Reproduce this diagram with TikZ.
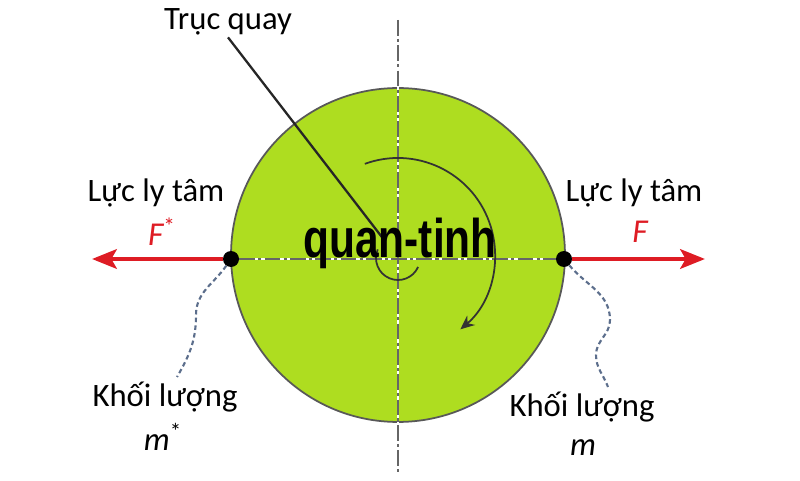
\documentclass[tikz,border=0pt]{standalone}
\usepackage{fontspec}
\setmainfont{Carlito}
\newfontfamily\wmfont{Liberation Sans}
\usetikzlibrary{arrows.meta,positioning}
\definecolor{discgreen}{RGB}{174,221,32}
\definecolor{rimgray}{RGB}{88,88,88}
\definecolor{forcered}{RGB}{222,28,36}
\definecolor{guideblue}{RGB}{92,110,140}
\tikzset{
  lbl/.style={font=\fontsize{18.6}{21}\selectfont, inner sep=1pt},
  flbl/.style={inner sep=1pt, text=forcered, font=\fontsize{19}{21}\selectfont\itshape},
  mass/.style={circle, fill=black, inner sep=0pt, minimum size=0.32cm},
  force/.style={draw=forcered, line width=2.8pt, -{Stealth[length=14pt,width=11pt,inset=3pt]}},
  guide/.style={draw=guideblue, line width=1.2pt, dash pattern=on 2.6pt off 1.8pt},
  axisline/.style={draw=black!60, line width=1pt, dash pattern=on 9pt off 1.8pt on 1.8pt off 1.8pt},
  spin/.style={draw=black!80, line width=1pt},
}
\begin{document}
\begin{tikzpicture}[x=0.02cm, y=0.02cm]
  \useasboundingbox (0,0) rectangle (800,480);

  \node[circle, draw=rimgray, line width=1pt, fill=discgreen, minimum size=6.68cm, inner sep=0pt] (disc) at (398,225) {};
  \coordinate (O) at (398,222);
  \coordinate (axtop) at (398,460);
  \coordinate (axbot) at (398,5);
  \coordinate (lend) at (92,221);
  \coordinate (rend) at (705,221);

  \draw[white, line width=1.2pt] (axtop) -- (axbot);
  \draw[axisline] (axtop) -- (axbot);

  \node[mass] (mL) at (231,221) {};
  \node[mass] (mR) at (564,221) {};
  \draw[white, line width=1.2pt] (mL) -- (mR);
  \draw[axisline] (mL) -- (mR);

  \draw[spin] ([shift={(157:22)}]O) arc[start angle=157, end angle=336, radius=22];
  \draw[spin, -{Stealth[length=8pt,width=7pt]}] ([shift={(110:97)}]398,225) arc[start angle=110, end angle=-50, radius=97];

  \node[lbl] (truc) at (228,458) {Trục quay};
  \draw[black!85, line width=1.3pt, shorten >=0.45cm] (truc.south) -- (O);

  \node[lbl] (lyL) at (156,287) {Lực ly tâm};
  \node[lbl] (lyR) at (634,287) {Lực ly tâm};
  \node[flbl] (fL) at (162,248) {F\textsuperscript{\upshape*}};
  \node[flbl] (fR) at (640,248) {F};
  \draw[force] (mL) -- (lend);
  \draw[force] (mR) -- (rend);

  \node[lbl] (klL) at (165,83) {Khối lượng};
  \node[lbl] (klR) at (582,73) {Khối lượng};
  \node[lbl, font=\fontsize{18.6}{21}\selectfont\itshape] (mstar) at (163,43) {m\textsuperscript{\upshape*}};
  \node[lbl, font=\fontsize{18.6}{21}\selectfont\itshape] (mplain) at (583,32) {m};
  \coordinate (gL) at (177,103);
  \coordinate (gR) at (608,93);
  \draw[guide] (mL) to[out=235,in=90] (196,165) to[out=270,in=60] (gL);
  \draw[guide] (mR) to[out=-50,in=90] (610,160) to[out=270,in=90] (596,125) to[out=270,in=110] (gR);

  \node[font=\wmfont\bfseries\fontsize{31}{32}\selectfont, xscale=0.78, anchor=base, inner sep=0pt] (wm) at (400,222) {quan-tinh};
\end{tikzpicture}
\end{document}
